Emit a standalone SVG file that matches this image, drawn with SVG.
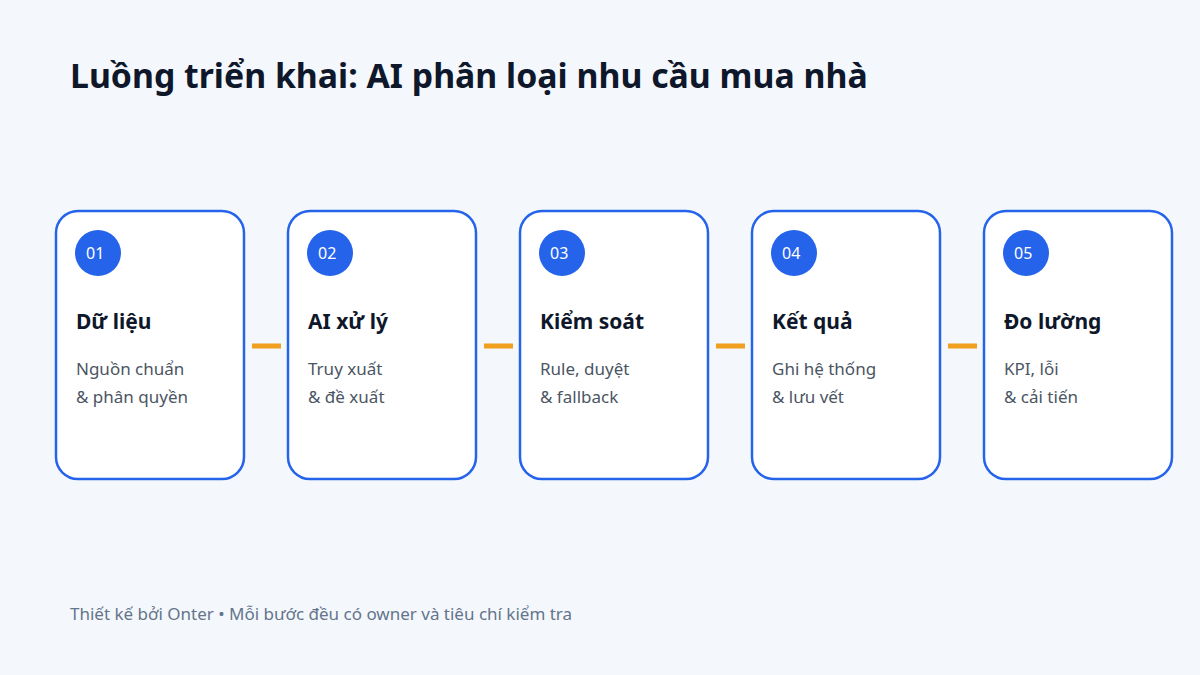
<svg xmlns="http://www.w3.org/2000/svg" width="1200" height="675" viewBox="0 0 1200 675">
<style>
text{font-family:"Noto Sans","Open Sans","DejaVu Sans",sans-serif}
.card{fill:#ffffff;stroke:#2563eb;stroke-width:2.5}
.badge{fill:#2563eb}
.num{fill:#ffffff;font-size:16px}
.h{fill:#0f172a;font-size:21px;font-weight:700}
.d{fill:#4b5563;font-size:17px}
.conn{stroke:#f0a01e;stroke-width:5}
</style>
<rect width="1200" height="675" fill="#f4f8fc"/>
<text x="70" y="88" style="font-size:33.8px;font-weight:700;fill:#0f172a">Luồng triển khai: AI phân loại nhu cầu mua nhà</text>
<g id="connectors">
<line class="conn" x1="252" y1="346" x2="281" y2="346"/>
<line class="conn" x1="484" y1="346" x2="513" y2="346"/>
<line class="conn" x1="716" y1="346" x2="745" y2="346"/>
<line class="conn" x1="948" y1="346" x2="977" y2="346"/>
</g>
<g id="node1">
<rect class="card" x="56" y="211" width="188" height="268" rx="22"/>
<circle class="badge" cx="98" cy="253" r="23"/>
<text class="num" x="86" y="259">01</text>
<text class="h" x="76" y="329">Dữ liệu</text>
<text class="d" x="76" y="375">Nguồn chuẩn</text>
<text class="d" x="76" y="403">&amp; phân quyền</text>
</g>
<g id="node2">
<rect class="card" x="288" y="211" width="188" height="268" rx="22"/>
<circle class="badge" cx="330" cy="253" r="23"/>
<text class="num" x="318" y="259">02</text>
<text class="h" x="308" y="329">AI xử lý</text>
<text class="d" x="308" y="375">Truy xuất</text>
<text class="d" x="308" y="403">&amp; đề xuất</text>
</g>
<g id="node3">
<rect class="card" x="520" y="211" width="188" height="268" rx="22"/>
<circle class="badge" cx="562" cy="253" r="23"/>
<text class="num" x="550" y="259">03</text>
<text class="h" x="540" y="329">Kiểm soát</text>
<text class="d" x="540" y="375">Rule, duyệt</text>
<text class="d" x="540" y="403">&amp; fallback</text>
</g>
<g id="node4">
<rect class="card" x="752" y="211" width="188" height="268" rx="22"/>
<circle class="badge" cx="794" cy="253" r="23"/>
<text class="num" x="782" y="259">04</text>
<text class="h" x="772" y="329">Kết quả</text>
<text class="d" x="772" y="375">Ghi hệ thống</text>
<text class="d" x="772" y="403">&amp; lưu vết</text>
</g>
<g id="node5">
<rect class="card" x="984" y="211" width="188" height="268" rx="22"/>
<circle class="badge" cx="1026" cy="253" r="23"/>
<text class="num" x="1014" y="259">05</text>
<text class="h" x="1004" y="329">Đo lường</text>
<text class="d" x="1004" y="375">KPI, lỗi</text>
<text class="d" x="1004" y="403">&amp; cải tiến</text>
</g>
<text x="70" y="620" style="font-size:17px;fill:#64748b">Thiết kế bởi Onter • Mỗi bước đều có owner và tiêu chí kiểm tra</text>
</svg>
